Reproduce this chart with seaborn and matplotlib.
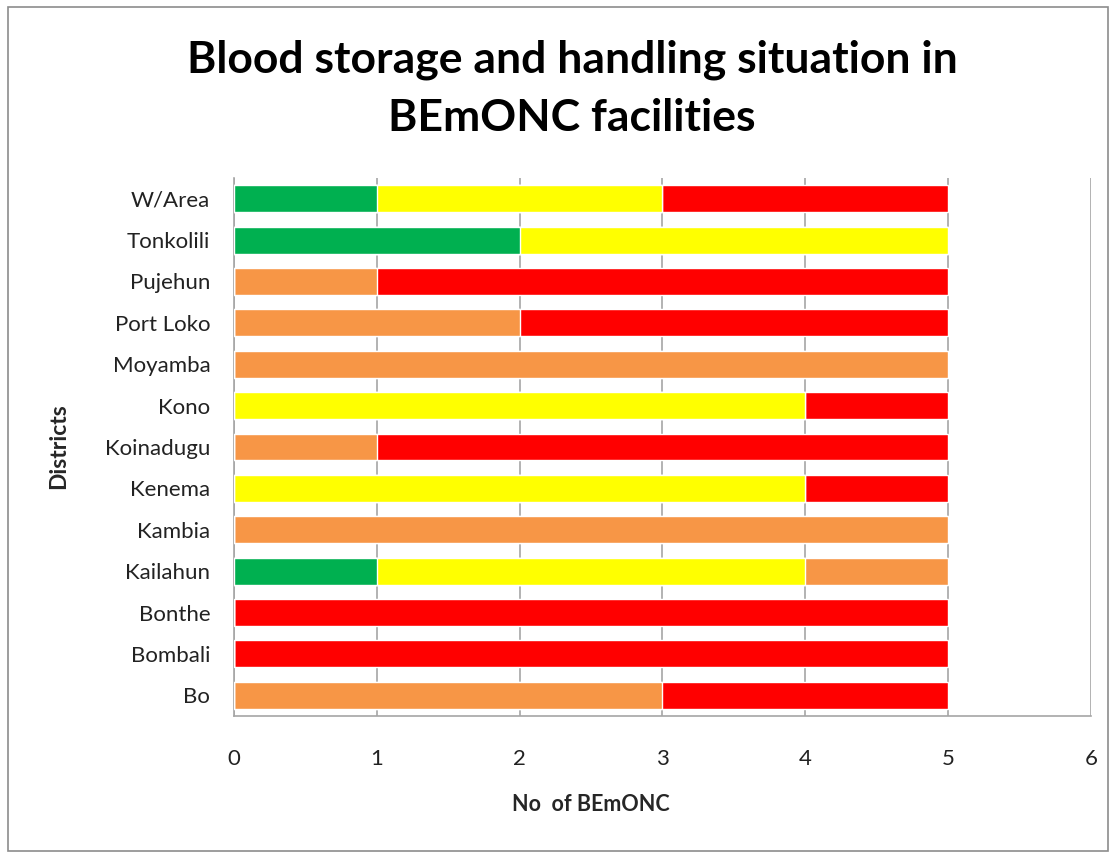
import numpy as np
import pandas as pd
import seaborn as sns
import matplotlib.pyplot as plt
from matplotlib.patches import Rectangle

# data (top to bottom)
districts = ["W/Area", "Tonkolili", "Pujehun", "Port Loko", "Moyamba", "Kono",
             "Koinadugu", "Kenema", "Kambia", "Kailahun", "Bonthe", "Bombali", "Bo"]
green = [1, 2, 0, 0, 0, 0, 0, 0, 0, 1, 0, 0, 0]
yellow = [2, 3, 0, 0, 0, 4, 0, 4, 0, 3, 0, 0, 0]
orange = [0, 0, 1, 2, 5, 0, 1, 0, 5, 1, 0, 0, 3]
red = [2, 0, 4, 3, 0, 1, 4, 1, 0, 0, 5, 5, 2]

df = pd.DataFrame({"District": districts, "green": green, "yellow": yellow,
                   "orange": orange, "red": red})
# cumulative totals, drawn largest first so each segment shows on top
df["c_green"] = df["green"]
df["c_yellow"] = df["c_green"] + df["yellow"]
df["c_orange"] = df["c_yellow"] + df["orange"]
df["c_red"] = df["c_orange"] + df["red"]

sns.set_style("white")
plt.rcParams["font.family"] = ["Lato", "DejaVu Sans"]

fig = plt.figure(figsize=(11.13, 8.55), dpi=100)
ax = fig.add_axes([0.2102, 0.1626, 0.7700, 0.6292])

colors = {"c_red": "#ff0000", "c_orange": "#f79646", "c_yellow": "#ffff00", "c_green": "#00b050"}
for col in ["c_red", "c_orange", "c_yellow", "c_green"]:
    sns.barplot(data=df, x=col, y="District", orient="h", color=colors[col],
                width=0.65, saturation=1, ax=ax, zorder=3)

ax.set_xlim(0, 6)
ax.set_xticks(range(7))
ax.grid(axis="x", color="#a6a6a6", linewidth=1.2, zorder=0)
ax.grid(axis="y", visible=False)
for side in ["top", "right"]:
    ax.spines[side].set_visible(False)
for side in ["left", "bottom"]:
    ax.spines[side].set_color("#a6a6a6")
    ax.spines[side].set_linewidth(1.2)
ax.tick_params(axis="both", length=0, labelsize=16, colors="#222222")
ax.tick_params(axis="x", pad=24)
ax.tick_params(axis="y", pad=17)

ax.set_xlabel("No  of BEmONC", fontsize=15.5, fontweight="bold")
ax.set_ylabel("Districts", fontsize=16.5, fontweight="bold")
ax.xaxis.set_label_coords(0.4166, -0.165)
ax.yaxis.set_label_coords(-0.205, 0.502)
ax.xaxis.label.set_va("center")
ax.yaxis.label.set_va("center")

fig.text(0.514, 0.93, "Blood storage and handling situation in", ha="center", va="center",
         fontsize=32, fontweight="bold", color="black")
fig.text(0.514, 0.862, "BEmONC facilities", ha="center", va="center",
         fontsize=32, fontweight="bold", color="black")

# outer chart border
fig.patches.append(Rectangle((0.0072, 0.005), 0.988, 0.987, transform=fig.transFigure,
                             fill=False, edgecolor="#8c8c8c", linewidth=1.2))

fig.savefig("out.png", dpi=100)
